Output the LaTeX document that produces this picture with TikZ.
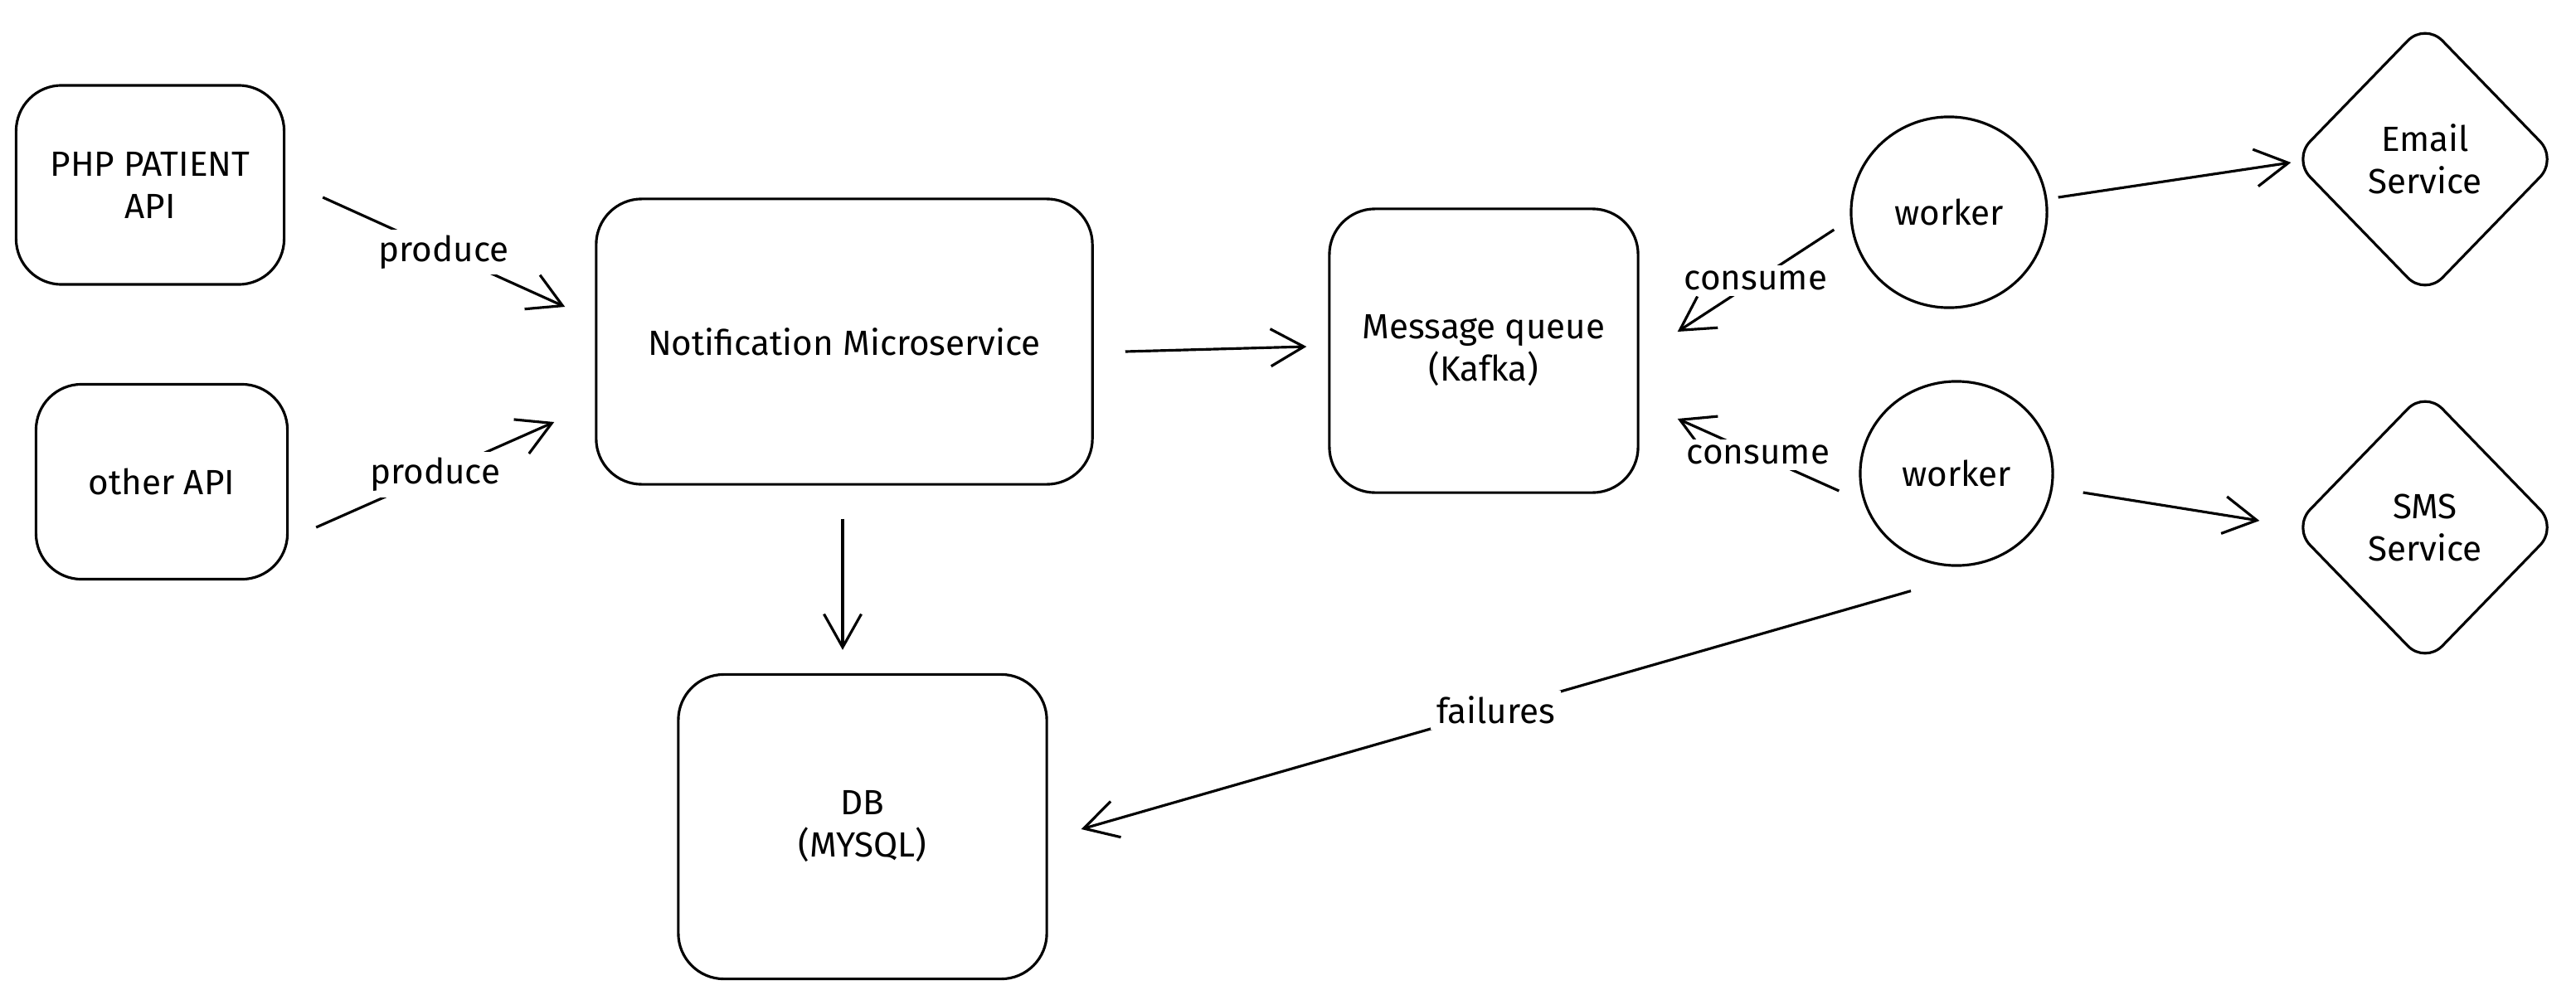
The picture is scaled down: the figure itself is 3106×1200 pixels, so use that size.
\documentclass[tikz,border=0pt]{standalone}
\usepackage{fontspec}
\setmainfont{Fira Sans}
\usetikzlibrary{arrows.meta,shapes.geometric}

\begin{document}
\begin{tikzpicture}[x=0.01cm,y=-0.01cm,
    line width=0.9pt, line join=round,
    font=\fontsize{12}{14.5}\selectfont,
    box/.style={draw, rounded corners=0.55cm, align=center, inner sep=0pt},
    worker/.style={draw, ellipse, inner sep=0pt},
    service/.style={draw, diamond, rounded corners=0.3cm, align=center, inner sep=0pt},
    arr/.style={-{Straight Barb[length=4mm,width=4.5mm]}},
    lbl/.style={fill=white, inner sep=2pt}]
        \useasboundingbox (0,0) rectangle (3106,1200);

        % Các API
        \node[box, minimum width=3.23cm, minimum height=2.4cm] (php) at (181,223) {PHP PATIENT\\API};
        \node[box, minimum width=3.03cm, minimum height=2.35cm] (other) at (195,581) {other API};

        % Microservice, hàng đợi, DB
        \node[box, minimum width=5.98cm, minimum height=3.44cm] (notif) at (1018,412) {Notification Microservice};
        \node[box, minimum width=3.72cm, minimum height=3.42cm] (mq) at (1789,423) {Message queue\\(Kafka)};
        \node[box, minimum width=4.44cm, minimum height=3.67cm] (db) at (1040,997) {DB\\(MYSQL)};

        % Worker
        \node[worker, minimum width=2.36cm, minimum height=2.3cm] (w1) at (2350,256) {worker};
        \node[worker, minimum width=2.32cm, minimum height=2.22cm] (w2) at (2359,571) {worker};

        % Dịch vụ
        \node[service, minimum width=3.2cm, minimum height=3.3cm] (email) at (2924,192) {Email\\Service};
        \node[service, minimum width=3.2cm, minimum height=3.3cm] (sms) at (2924,636) {SMS\\Service};

        % Mũi tên
        \draw[arr] ([shift={(45,15)}]php.east) -- ([shift={(-36,-42)}]notif.west) node[lbl, midway] {produce};
        \draw[arr] ([shift={(33,55)}]other.east) -- ([shift={(-49,97)}]notif.west) node[lbl, midway] {produce};
        \draw[arr] ([shift={(38,12)}]notif.east) -- ([shift={(-26,-5)}]mq.west);
        \draw[arr] ([shift={(-2,40)}]notif.south) -- ([shift={(-24,-28)}]db.north);
        \draw[arr] ([shift={(-19,21)}]w1.west) -- ([shift={(46,-23)}]mq.east) node[lbl, midway] {consume};
        \draw[arr] ([shift={(-24,21)}]w2.west) -- ([shift={(46,82)}]mq.east) node[lbl, midway] {consume};
        \draw[arr] ([shift={(12,-18)}]w1.east) -- ([shift={(0,4)}]email.west);
        \draw[arr] ([shift={(35,23)}]w2.east) -- ([shift={(-38,-8)}]sms.west);
        \draw[arr] ([shift={(-55,29)}]w2.south) -- ([shift={(40,3)}]db.east) node[lbl, midway] {failures};
    \end{tikzpicture}
\end{document}
